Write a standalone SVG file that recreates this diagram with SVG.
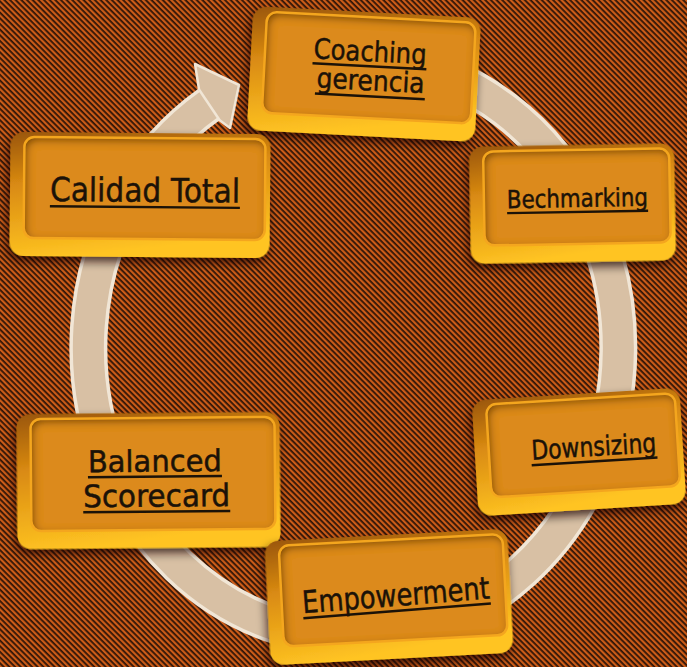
<svg xmlns="http://www.w3.org/2000/svg" width="687" height="667" viewBox="0 0 687 667">
  <defs>
    <!-- diagonal striped backdrop -->
    <pattern id="stripes" patternUnits="userSpaceOnUse" width="10" height="4" patternTransform="rotate(45)">
      <rect x="0" y="0" width="10" height="4" fill="#cc5c18"/>
      <rect x="0" y="0" width="10" height="1.8" fill="#2e1508"/>
    </pattern>
    <linearGradient id="sideGrad" x1="0" y1="0" x2="0.25" y2="1">
      <stop offset="0" stop-color="#9a560a"/>
      <stop offset="0.4" stop-color="#d98a12"/>
      <stop offset="1" stop-color="#ffc422"/>
    </linearGradient>
    <filter id="drop" x="-15%" y="-15%" width="130%" height="135%">
      <feGaussianBlur in="SourceAlpha" stdDeviation="5"/>
      <feOffset dx="-2" dy="5" result="b"/>
      <feFlood flood-color="#1a0700" flood-opacity="0.75"/>
      <feComposite in2="b" operator="in"/>
      <feMerge><feMergeNode/><feMergeNode in="SourceGraphic"/></feMerge>
    </filter>
    <filter id="inset" x="-8%" y="-8%" width="116%" height="116%">
      <feFlood flood-color="#5c2e02" flood-opacity="0.95" result="f"/>
      <feComposite in="f" in2="SourceAlpha" operator="out" result="o"/>
      <feGaussianBlur in="o" stdDeviation="4.5" result="b"/>
      <feOffset in="b" dx="2" dy="3" result="bo"/>
      <feComposite in="bo" in2="SourceAlpha" operator="in" result="s"/>
      <feMerge><feMergeNode in="SourceGraphic"/><feMergeNode in="s"/></feMerge>
    </filter>
    <style>
      .side { fill: url(#sideGrad); filter: url(#drop); }
      .face { fill: #dc8a1d; filter: url(#inset); }
      .rim { fill: none; stroke: #f4a61e; stroke-width: 2.5; }
      .lbl { font-family: "DejaVu Sans", "Liberation Sans", sans-serif; fill: #1b1208; stroke: #1b1208; stroke-width: 0.5; text-anchor: middle; }
      .ul { stroke: #1b1208; stroke-width: 2.4; }
      .ring-edge { fill: none; stroke: #f1e6d6; stroke-width: 38; }
      .ring-body { fill: none; stroke: #d8c0a4; stroke-width: 31; }
    </style>
  </defs>

  <rect x="0" y="0" width="687" height="667" fill="url(#stripes)"/>

  <!-- circular cycle arrow running behind the boxes -->
  <g id="connectors">
    <path class="ring-edge" d="M 399 62 A 265 290 0 1 1 208.7 104.7"/>
    <path class="ring-body" d="M 399 62 A 265 290 0 1 1 208.7 104.7"/>
    <polygon points="199,89.5 195,64 239,85 230,128 219.7,120.2" fill="#d8c0a4" stroke="#f1e6d6" stroke-width="2.5" stroke-linejoin="round"/>
  </g>

  <g id="coaching" transform="translate(364 74) rotate(3)">
    <rect class="side" x="-114" y="-62" width="228" height="124" rx="14"/>
    <rect class="face" x="-100" y="-57" width="209" height="101" rx="10"/>
    <rect class="rim" x="-100" y="-57" width="209" height="101" rx="10"/>
    <text class="lbl" x="5" y="-13" font-size="28" textLength="113" lengthAdjust="spacingAndGlyphs">Coaching</text>
    <line class="ul" x1="-52" y1="-8" x2="62" y2="-8"/>
    <text class="lbl" x="7" y="16" font-size="28" textLength="108" lengthAdjust="spacingAndGlyphs">gerencia</text>
    <line class="ul" x1="-48" y1="22" x2="62" y2="22"/>
  </g>

  <g id="bechmarking" transform="translate(572.5 203.5) rotate(-1)">
    <rect class="side" x="-102.5" y="-58.5" width="205" height="117" rx="14"/>
    <rect class="face" x="-88.5" y="-53.5" width="186" height="94" rx="10"/>
    <rect class="rim" x="-88.5" y="-53.5" width="186" height="94" rx="10"/>
    <text class="lbl" x="5" y="3.5" font-size="25" textLength="141" lengthAdjust="spacingAndGlyphs">Bechmarking</text>
    <line class="ul" x1="-65.5" y1="8.5" x2="75.5" y2="8.5"/>
  </g>

  <g id="calidad" transform="translate(140 195) rotate(0.5)">
    <rect class="side" x="-130" y="-62" width="260" height="124" rx="14"/>
    <rect class="face" x="-116" y="-57" width="241" height="101" rx="10"/>
    <rect class="rim" x="-116" y="-57" width="241" height="101" rx="10"/>
    <text class="lbl" x="5" y="6.7" font-size="33" textLength="190" lengthAdjust="spacingAndGlyphs">Calidad Total</text>
    <line class="ul" x1="-90" y1="12" x2="100" y2="12"/>
  </g>

  <g id="balanced" transform="translate(148.5 480.5) rotate(-0.5)">
    <rect class="side" x="-131.5" y="-67.5" width="263" height="135" rx="14"/>
    <rect class="face" x="-117.5" y="-62.5" width="244" height="112" rx="10"/>
    <rect class="rim" x="-117.5" y="-62.5" width="244" height="112" rx="10"/>
    <text class="lbl" x="6.5" y="-8.8" font-size="30" textLength="134" lengthAdjust="spacingAndGlyphs">Balanced</text>
    <line class="ul" x1="-60.5" y1="-3.8" x2="73.5" y2="-3.8"/>
    <text class="lbl" x="8" y="26.2" font-size="31" textLength="147" lengthAdjust="spacingAndGlyphs">Scorecard</text>
    <line class="ul" x1="-65.5" y1="31.2" x2="81.5" y2="31.2"/>
  </g>

  <g id="downsizing" transform="translate(579 452) rotate(-3.5)">
    <rect class="side" x="-104" y="-58" width="208" height="116" rx="14"/>
    <rect class="face" x="-90" y="-53" width="189" height="93" rx="10"/>
    <rect class="rim" x="-90" y="-53" width="189" height="93" rx="10"/>
    <text class="lbl" x="15" y="4.8" font-size="27" textLength="125" lengthAdjust="spacingAndGlyphs">Downsizing</text>
    <line class="ul" x1="-48" y1="10.3" x2="78" y2="10.3"/>
  </g>

  <g id="empowerment" transform="translate(389 597) rotate(-3)">
    <rect class="side" x="-121.5" y="-62" width="243" height="124" rx="14"/>
    <rect class="face" x="-107.5" y="-57" width="224" height="101" rx="10"/>
    <rect class="rim" x="-107.5" y="-57" width="224" height="101" rx="10"/>
    <g transform="rotate(-1.5)">
      <text class="lbl" x="7" y="9.5" font-size="31" textLength="188" lengthAdjust="spacingAndGlyphs">Empowerment</text>
      <line class="ul" x1="-87" y1="14.5" x2="101" y2="14.5"/>
    </g>
  </g>
</svg>
